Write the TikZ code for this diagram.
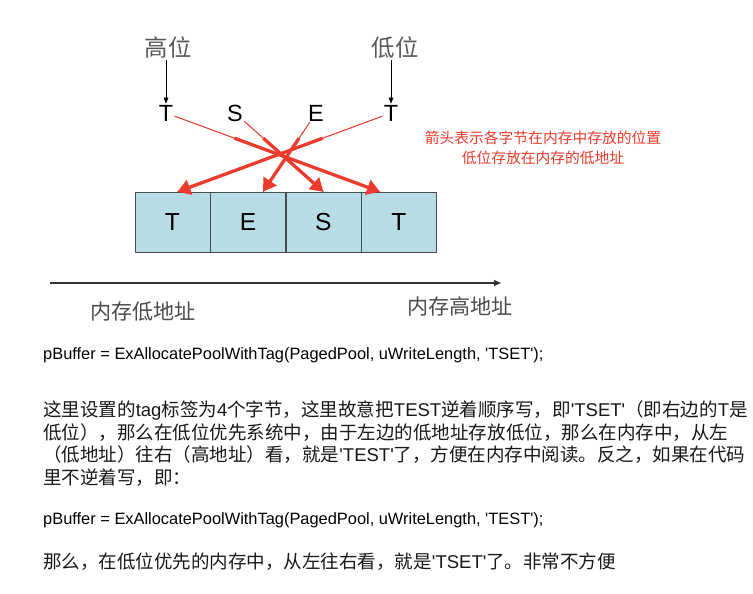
\documentclass[tikz,border=0pt]{standalone}
\usepackage{fontspec}
\setmainfont{Noto Sans CJK SC}
\newfontfamily\latin{Liberation Sans}
\usepackage{xcolor}
\usetikzlibrary{positioning,arrows.meta,calc}
\definecolor{cellblue}{RGB}{184,220,229}
\definecolor{notered}{RGB}{236,58,44}
\newcommand{\en}[1]{{\latin #1}}

\begin{document}
\begin{tikzpicture}[x=0.03cm,y=-0.03cm,
    bit/.style={font=\fontsize{20}{24}\selectfont,text=black!65,inner sep=1pt},
    letter/.style={font=\latin\fontsize{20}{24}\selectfont,inner sep=1pt},
    cell/.style={draw=black!70,fill=cellblue,minimum width=2.25cm,minimum height=1.8cm,
      inner sep=0pt,font=\latin\fontsize{21}{24}\selectfont},
    down/.style={-{Triangle[length=5pt,width=4pt]},thin},
    redthin/.style={draw=notered,line width=0.9pt},
    redthick/.style={draw=notered,line width=2.8pt,-{Triangle[length=11pt,width=13pt]}},
    note/.style={text=notered,align=center,font=\fontsize{12.6}{17}\selectfont},
    addr/.style={text=black!70,font=\fontsize{18}{22}\selectfont},
    code/.style={anchor=west,inner sep=0pt,font=\latin\fontsize{14}{17}\selectfont},
    para/.style={anchor=west,inner sep=0pt,text=black!90,font=\fontsize{15.8}{19}\selectfont}
  ]
    \fill[white] (0,0) rectangle (753,594);
    \useasboundingbox (0,0) rectangle (753,594);
    % byte order labels
    \node[bit] (hi) at (168,48) {高位};
    \node[bit] (lo) at (395,48) {低位};
    \node[letter] (tH) at (166,113) {T};
    \node[letter] (s) at (235,113) {S};
    \node[letter] (e) at (316,113) {E};
    \node[letter] (tL) at (391,113) {T};
    \draw[down] (hi.south -| tH) -- (tH);
    \draw[down] (lo.south -| tL) -- (tL);
    % memory cells
    \node[cell] (c1) at (172.5,222) {T};
    \node[cell,right=0pt of c1] (c2) {E};
    \node[cell,right=0pt of c2] (c3) {S};
    \node[cell,right=0pt of c3] (c4) {T};
    \coordinate (a1) at ($(c1.north)+(5,0)$);
    \coordinate (a2) at ($(c2.north)+(15,0)$);
    \coordinate (a3) at ($(c3.north)+(0,0)$);
    \coordinate (a4) at ($(c4.north)+(-19,0)$);
    % red arrows: thin start, thick end
    \draw[redthin] (tH) -- (a4);
    \draw[redthin] (s) -- (a3);
    \draw[redthin] (e) -- (a2);
    \draw[redthin] (tL) -- (a1);
    \draw[redthick] ($(tH)!0.32!(a4)$) -- (a4);
    \draw[redthick] ($(s)!0.32!(a3)$) -- (a3);
    \draw[redthick] ($(e)!0.32!(a2)$) -- (a2);
    \draw[redthick] ($(tL)!0.32!(a1)$) -- (a1);
    \node[note] (memo) at (543,148) {箭头表示各字节在内存中存放的位置\\低位存放在内存的低地址};
    % address axis
    \coordinate (ax0) at (50,283);
    \coordinate (ax1) at (501,283);
    \draw[-{Triangle[length=6pt,width=5pt]},line width=0.9pt,black!80] (ax0) -- (ax1);
    \node[addr] (low) at (143,312) {内存低地址};
    \node[addr] (high) at (460,306) {内存高地址};
    % text below
    \node[code] (call1) at (43,355) {pBuffer = ExAllocatePoolWithTag(PagedPool, uWriteLength, 'TSET');};
    \node[para] (p1) at (43,410) {这里设置的\en{tag}标签为\en{4}个字节，这里故意把\en{TEST}逆着顺序写，即\en{'TSET'}（即右边的\en{T}是};
    \node[para] (p2) at (43,433) {低位），那么在低位优先系统中，由于左边的低地址存放低位，那么在内存中，从左};
    \node[para] (p3) at (43,455) {（低地址）往右（高地址）看，就是\en{'TEST'}了，方便在内存中阅读。反之，如果在代码};
    \node[para] (p4) at (43,478) {里不逆着写，即：};
    \node[code] (call2) at (43,520) {pBuffer = ExAllocatePoolWithTag(PagedPool, uWriteLength, 'TEST');};
    \node[para] (p5) at (43,562) {那么，在低位优先的内存中，从左往右看，就是\en{'TSET'}了。非常不方便};
\end{tikzpicture}
\end{document}
